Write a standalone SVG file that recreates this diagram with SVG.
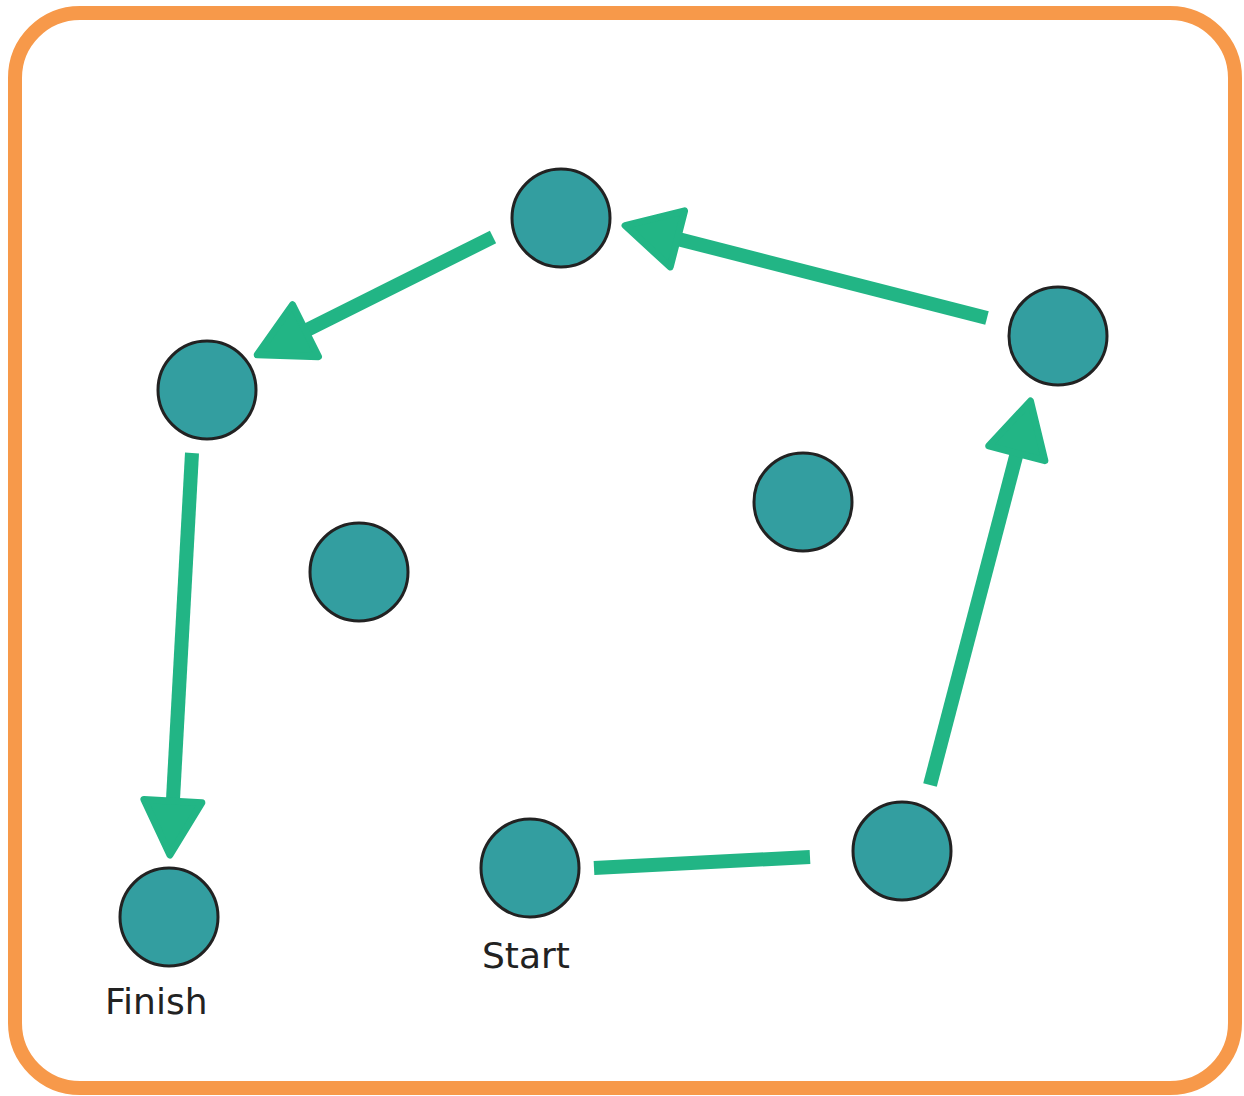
<svg xmlns="http://www.w3.org/2000/svg" width="1244" height="1096" viewBox="0 0 1244 1096">
<style>
.node{fill:#339ea0;stroke:#222;stroke-width:3}
.edge{stroke:#22b585;stroke-width:14;fill:none}
.lbl{font-family:"DejaVu Sans",Verdana,sans-serif;font-size:36px;fill:#222}
</style>
<defs>
<marker id="ah" viewBox="-4 -4 62 66" refX="0" refY="29" markerWidth="62" markerHeight="66" markerUnits="userSpaceOnUse" orient="auto">
<path d="M0,0 L54,29 L0,58 z" fill="#22b585" stroke="#22b585" stroke-width="7" stroke-linejoin="round"/>
</marker>
</defs>
<rect x="15" y="13" width="1220" height="1075" rx="65" ry="65" fill="#fff" stroke="#f7994a" stroke-width="14"/>
<g id="connectors">
<line class="edge" x1="594" y1="868" x2="810" y2="857"/>
<line class="edge" x1="930" y1="785" x2="1016.8" y2="453.3" marker-end="url(#ah)"/>
<line class="edge" x1="987" y1="318" x2="677.4" y2="238.9" marker-end="url(#ah)"/>
<line class="edge" x1="493" y1="237" x2="305.5" y2="330.7" marker-end="url(#ah)"/>
<line class="edge" x1="192" y1="453" x2="172.9" y2="801.1" marker-end="url(#ah)"/>
</g>
<g id="node-top"><circle class="node" cx="561" cy="218" r="49"/></g>
<g id="node-left"><circle class="node" cx="207" cy="390" r="49"/></g>
<g id="node-right"><circle class="node" cx="1058" cy="336" r="49"/></g>
<g id="node-center-right"><circle class="node" cx="803" cy="502" r="49"/></g>
<g id="node-center-left"><circle class="node" cx="359" cy="572" r="49"/></g>
<g id="node-bottom-right"><circle class="node" cx="902" cy="851" r="49"/></g>
<g id="node-start"><circle class="node" cx="530" cy="868" r="49"/><text class="lbl" x="482" y="968">Start</text></g>
<g id="node-finish"><circle class="node" cx="169" cy="917" r="49"/><text class="lbl" x="105" y="1014">Finish</text></g>
</svg>
